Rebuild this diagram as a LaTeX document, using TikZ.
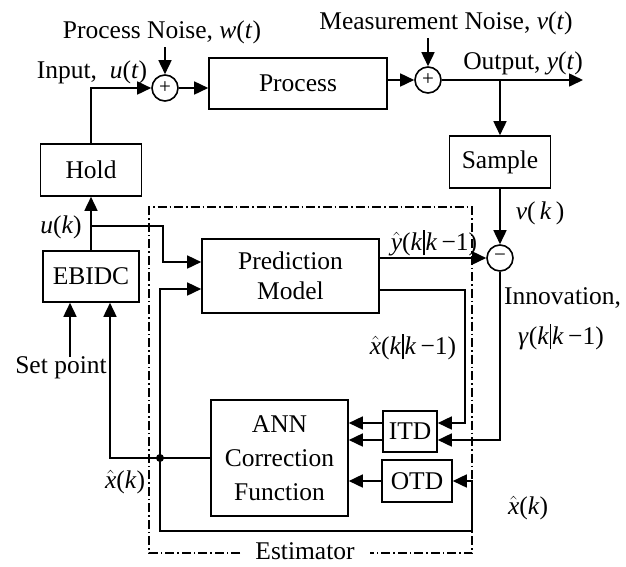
\documentclass[tikz,border=0pt]{standalone}
\usepackage{fontspec}
\setmainfont{Liberation Serif}
\usetikzlibrary{arrows.meta}
\newcommand\mv[1]{\textit{#1}}
\newcommand\vb{\kern1pt\rule[-5pt]{1.2pt}{25pt}\kern1pt}
\newcommand\xh{$\hat{\mbox{\itshape x}}$}
\newcommand\yh{$\hat{\mbox{\itshape y}}$}
\begin{document}
\begin{tikzpicture}[x=1pt,y=-1pt,
  font=\fontsize{25.5}{30}\selectfont,
  box/.style={draw,line width=1.6pt,inner sep=0pt,align=center},
  sumnode/.style={draw,circle,line width=1.6pt,minimum size=26pt,inner sep=0pt,font=\fontsize{21}{21}\selectfont},
  conn/.style={line width=1.6pt},
  arr/.style={conn,-{Triangle[length=14pt,width=13pt]}},
  lbl/.style={inner sep=0pt},
  est/.style={line width=1.4pt,dash pattern=on 9pt off 3pt on 1.5pt off 3pt}]
\useasboundingbox (0,0) rectangle (626,566);
% boxes
\node[box,minimum width=101pt,minimum height=52pt] (hold) at (91,170) {Hold};
\node[box,minimum width=178pt,minimum height=51pt] (proc) at (298,83.5) {Process};
\node[box,minimum width=101pt,minimum height=52pt] (samp) at (500,162) {Sample};
\node[box,minimum width=96pt,minimum height=51pt] (ebidc) at (91,276.5) {EBIDC};
\node[box,minimum width=177pt,minimum height=74pt,font=\fontsize{25.5}{30}\selectfont] (pred) at (290.5,276) {Prediction\\Model};
\node[box,minimum width=137pt,minimum height=116pt,font=\fontsize{25.5}{34}\selectfont] (ann) at (279.5,458) {ANN\\Correction\\Function};
\node[box,minimum width=54pt,minimum height=41pt] (itd) at (410,431.5) {ITD};
\node[box,minimum width=70pt,minimum height=42pt] (otd) at (417,481) {OTD};
\node[sumnode] (s1) at (165,88) {+};
\node[sumnode] (s2) at (428,80) {+};
\node[sumnode] (s3) at (500,258) {−};
% estimator frame
\draw[est] (240,553) -- (149,553) -- (149,207) -- (472,207) -- (472,553) -- (370,553);
% connectors
\coordinate (pn) at (165,47);
\draw[arr] (pn) -- (s1);
\draw[arr] (hold.north) |- (s1.west);
\draw[arr] (s1.east) -- (s1.east -| proc.west);
\draw[arr] (proc.east |- s2.west) -- (s2.west);
\coordinate (mn) at (428,38);
\draw[arr] (mn) -- (s2);
\coordinate (yout) at (583,80);
\draw[arr] (s2.east) -- (yout);
\coordinate (br) at (500,80);
\draw[arr] (br) -- (samp.north);
\draw[arr] (samp.south) -- (s3.north);
\draw[arr] (ebidc.north) -- (hold.south);
\coordinate (uk) at (91,226);
\coordinate (uk2) at (163,226);
\coordinate (p1) at (163,262);
\draw[arr] (uk) -- (uk2) -- (p1) -- (p1 -| pred.west);
\draw[arr] (pred.east |- s3.west) -- (s3.west);
\coordinate (c1) at (465,290);
\coordinate (c2) at (465,423);
\draw[arr] (c1 -| pred.east) -- (c1) -- (c2) -- (c2 -| itd.east);
\coordinate (c3) at (500,440);
\draw[arr] (s3.south) -- (c3) -- (c3 -| itd.east);
\coordinate (c4) at (0,423);
\coordinate (c5) at (0,440);
\draw[arr] (c4 -| itd.west) -- (c4 -| ann.east);
\draw[arr] (c5 -| itd.west) -- (c5 -| ann.east);
\draw[arr] (otd.west) -- (otd.west -| ann.east);
\coordinate (j) at (160,458);
\coordinate (c6) at (160,531);
\coordinate (c7) at (472,531);
\draw[arr] (j) -- (c6) -- (c7) -- (c7 |- otd.east) -- (otd.east);
\coordinate (c8) at (160,289);
\draw[arr] (j) -- (c8) -- (c8 -| pred.west);
\coordinate (c9) at (110,458);
\draw[arr] (ann.west) -- (c9) -- (c9 |- ebidc.south);
\fill (j) circle (4pt);
\coordinate (sp) at (70,357);
\draw[arr] (sp) -- (sp |- ebidc.south);
% labels
\node[lbl] (lpn) at (162,32) {Process Noise, \mv{w}(\mv{t})};
\node[lbl] (lin) at (92,72) {Input,\ \ \mv{u}(\mv{t})};
\node[lbl] (lmn) at (446,23) {Measurement Noise, \mv{v}(\mv{t})};
\node[lbl] (lout) at (523,63) {Output, \mv{y}(\mv{t})};
\node[lbl] (luk) at (61,227) {\mv{u}(\mv{k})};
\node[lbl] (lyh) at (434,243) {\yh(\mv{k}\vb\mv{k}\,−1)};
\node[lbl] (lvk) at (540,213) {\mv{v}(\,\mv{k}\,)};
\node[lbl,anchor=west] (linn) at (504,298) {Innovation,};
\node[lbl] (lgam) at (561,337) {\mv{γ}(\mv{k}\vb\mv{k}\,−1)};
\node[lbl] (lxk1) at (413,347) {\xh(\mv{k}\vb\mv{k}\,−1)};
\node[lbl] (lsp) at (61,368) {Set point};
\node[lbl] (lxk) at (125,482) {\xh(\mv{k})};
\node[lbl] (lxk2) at (528,508) {\xh(\mv{k})};
\node[lbl] (lest) at (305,551) {Estimator};
\end{tikzpicture}
\end{document}
